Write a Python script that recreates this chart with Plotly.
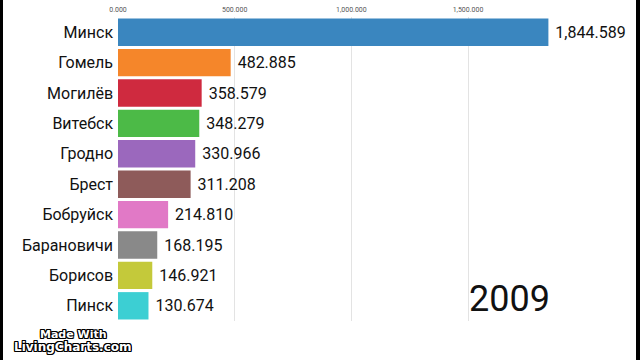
import plotly.graph_objects as go

cities = ["Минск", "Гомель", "Могилёв", "Витебск", "Гродно", "Брест",
          "Бобруйск", "Барановичи", "Борисов", "Пинск"]
population = [1844589, 482885, 358579, 348279, 330966, 311208,
              214810, 168195, 146921, 130674]
value_labels = ["1,844.589", "482.885", "358.579", "348.279", "330.966",
                "311.208", "214.810", "168.195", "146.921", "130.674"]
colors = ["#3a86bf", "#f5862a", "#cf2a3f", "#4cba47", "#9b68bd",
          "#8e5b5a", "#e179c6", "#898989", "#c4c93a", "#3ccfd3"]
tick_values = [0, 500000, 1000000, 1500000]
tick_labels = ["0.000", "500.000", "1,000.000", "1,500.000"]
year = "2009"

W, H = 640, 360
ml, mr, mt, mb = 118, 32, 17, 39

fig = go.Figure(go.Bar(
    x=population, y=cities, orientation="h",
    marker=dict(color=colors, line=dict(width=0)),
    text=["\u00a0" + t for t in value_labels], textposition="outside",
    cliponaxis=False,
    textfont=dict(family="Roboto", size=16, color="#111111"),
    width=0.9,
))

fig.update_layout(
    width=W, height=H,
    margin=dict(l=ml, r=mr, t=mt, b=mb, pad=0, autoexpand=False),
    paper_bgcolor="black", plot_bgcolor="white",
    showlegend=False,
    xaxis=dict(range=[0, 2100000], side="top", tickvals=tick_values,
               ticktext=tick_labels, showgrid=True, gridcolor="#e3e3e3",
               gridwidth=1, zeroline=False, showline=False, ticks="",
               automargin=False, ticklabelstandoff=3,
               tickfont=dict(family="Roboto", size=7, color="#555555"),
               fixedrange=True),
    yaxis=dict(autorange="reversed", showgrid=False, ticks="",
               automargin=False,
               tickfont=dict(family="Roboto", size=16, color="#111111"),
               ticksuffix=" ", showline=False, zeroline=False),
)

pw = W - ml - mr
ph = H - mt - mb
def px_to_paper_x(px):
    return (px - ml) / pw
def px_to_paper_y(py):
    return 1 - (py - mt) / ph

# white canvas between the black side borders
fig.add_shape(type="rect", xref="paper", yref="paper",
              x0=px_to_paper_x(3), x1=px_to_paper_x(636),
              y0=px_to_paper_y(H + 2), y1=px_to_paper_y(-2),
              fillcolor="white", line=dict(width=0), layer="below")

fig.add_annotation(text=year, xref="paper", yref="paper",
                   x=px_to_paper_x(509), y=px_to_paper_y(299),
                   xanchor="center", yanchor="middle", showarrow=False,
                   font=dict(family="Roboto", size=36, color="#111111"))

outline = ("1px 1px 0 #000, -1px -1px 0 #000, 1px -1px 0 #000, -1px 1px 0 #000,"
           " 0 1px 0 #000, 0 -1px 0 #000, 1px 0 0 #000, -1px 0 0 #000")
fig.add_annotation(text="<b>Made With</b>", xref="paper", yref="paper",
                   x=px_to_paper_x(73), y=px_to_paper_y(334),
                   xanchor="center", yanchor="middle", showarrow=False,
                   font=dict(family="DejaVu Sans", size=11, color="white",
                             shadow=outline))
fig.add_annotation(text="<b>LivingCharts.com</b>", xref="paper", yref="paper",
                   x=px_to_paper_x(73), y=px_to_paper_y(347),
                   xanchor="center", yanchor="middle", showarrow=False,
                   font=dict(family="DejaVu Sans", size=12, color="white",
                             shadow=outline))

fig.write_html("out.html",
               config={"displayModeBar": False},
               post_script="document.body.style.margin='0';"
                           "document.body.style.overflow='hidden';")
